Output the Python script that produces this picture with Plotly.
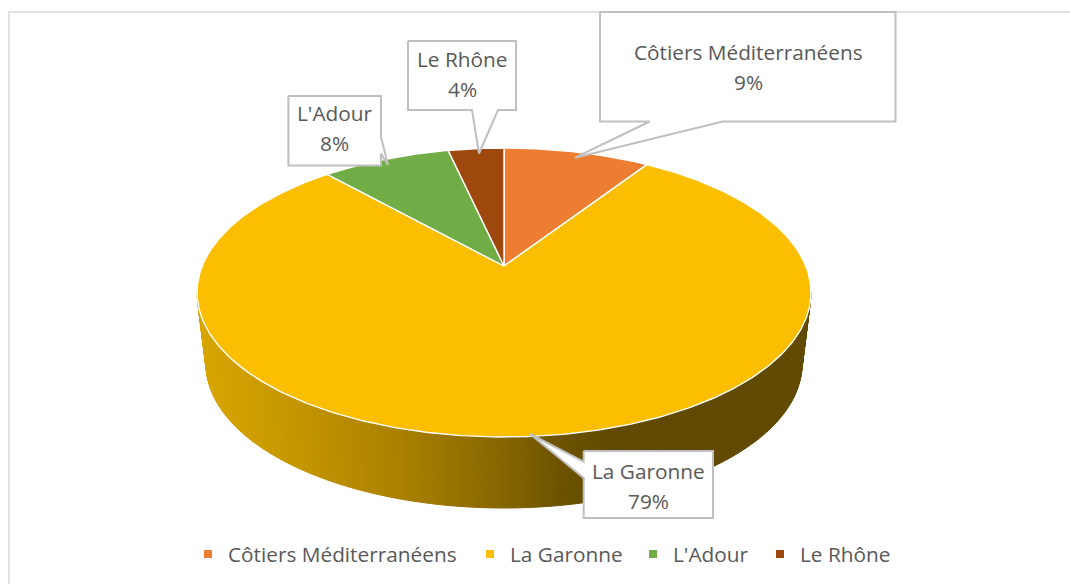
import numpy as np
import plotly.graph_objects as go

# ---- data ----
categories = ["Côtiers Méditerranéens", "La Garonne", "L'Adour", "Le Rhône"]
shares = [9.2, 79.2, 8.1, 3.5]          # slice sizes
labels = ["9%", "79%", "8%", "4%"]      # printed labels
colors = ["#ED7D31", "#FBBE00", "#70AD47", "#9E480E"]

# ---- projection of the tilted pie onto the page (pixels) ----
CX, APEX_Y, Y_TOP, Y_BOTTOM, HALF_W = 504.0, 266.0, 148.0, 437.0, 307.0
K = (Y_TOP + Y_BOTTOM - 2 * APEX_Y) / (Y_BOTTOM - Y_TOP)
A = Y_TOP * (1 + K) - APEX_Y
B = HALF_W * np.sqrt(1 - K * K)


def project(theta):
    """theta: clockwise from 12 o'clock in radians, on the disc rim."""
    u, v = np.sin(theta), np.cos(theta)
    w = 1 + K * v
    return CX + B * u / w, (APEX_Y + A * v) / w


fig = go.Figure()

# chart frame (runs off the page on the right and bottom)
fig.add_trace(go.Scatter(x=[9, 9, 1080], y=[600, 12, 12], mode="lines",
                         line=dict(color="#D9D9D9", width=1.5),
                         hoverinfo="skip", showlegend=False))

# ---- wall of the pie, drawn in narrow strips to get the gradient ----
grad_x = [197, 300, 400, 500, 560, 610, 811]
grad_r = [218, 197, 170, 135, 110, 97, 97]
grad_g = [166, 150, 129, 103, 84, 74, 74]

TOP_C, TOP_RX, TOP_RY = 292.5, 307.0, 144.5
BOT_C, BOT_RX, BOT_RY = 364.0, 298.0, 144.0
ts = np.linspace(0, np.pi, 161)
for t0, t1 in zip(ts[:-1], ts[1:]):
    xs = [CX - TOP_RX * np.cos(t0), CX - TOP_RX * np.cos(t1),
          CX - BOT_RX * np.cos(t1), CX - BOT_RX * np.cos(t0)]
    ys = [TOP_C + TOP_RY * np.sin(t0), TOP_C + TOP_RY * np.sin(t1),
          BOT_C + BOT_RY * np.sin(t1), BOT_C + BOT_RY * np.sin(t0)]
    mid = sum(xs) / 4
    c = "rgb(%d,%d,0)" % (np.interp(mid, grad_x, grad_r), np.interp(mid, grad_x, grad_g))
    fig.add_trace(go.Scatter(x=xs + xs[:1], y=ys + ys[:1], mode="lines", fill="toself",
                             fillcolor=c, line=dict(color=c, width=1),
                             hoverinfo="skip", showlegend=False))

# ---- top slices, clockwise from 12 o'clock ----
start = 0.0
total = sum(shares)
for name, share, col in zip(categories, shares, colors):
    end = start + share / total * 2 * np.pi
    th = np.linspace(start, end, max(6, int(share * 6)))
    rx, ry = project(th)
    fig.add_trace(go.Scatter(x=[CX, *rx, CX], y=[APEX_Y, *ry, APEX_Y], mode="lines",
                             fill="toself", fillcolor=col,
                             line=dict(color="white", width=1.4),
                             name=name, hoverinfo="name", showlegend=False))
    start = end

# ---- legend entries: one small legend per entry so each sits at its own place ----
FONT = dict(family="Open Sans", size=20.8, color="#595959")
legend_left = [188, 470, 633, 760]
legend_layout = {}
for i, (name, col, left) in enumerate(zip(categories, colors, legend_left)):
    key = "legend" if i == 0 else f"legend{i + 1}"
    fig.add_trace(go.Scatter(x=[None], y=[None], mode="markers", name=name, legend=key,
                             showlegend=True,
                             marker=dict(symbol="square", size=8, color=col)))
    legend_layout[key] = dict(x=left / 1070, y=1 - 554.5 / 584, yanchor="middle", xanchor="left",
                              orientation="h", font=FONT, bgcolor="rgba(0,0,0,0)",
                              itemclick=False, itemdoubleclick=False)

# ---- callouts: outline of each box with its pointer, then the text ----
callouts = {
    "Côtiers Méditerranéens": ([600, 895.5, 895.5, 722.7, 575, 649.7, 600],
                               [12, 12, 121.5, 121.5, 157.7, 121.5, 121.5], 748, 52),
    "La Garonne": ([583.7, 583.7, 530, 583.7, 583.7, 713, 713],
                   [451, 461.7, 434, 478, 518, 518, 451], 648.5, 471),
    "L'Adour": ([288.4, 381, 381, 388, 381, 381, 288.4],
                [96, 96, 137, 165, 153.6, 165.5, 165.5], 334.5, 113),
    "Le Rhône": ([408, 516, 516, 498, 479, 472, 408],
                 [41, 41, 110, 110, 153.5, 110, 110], 462, 59),
}
annotations = []
for name, label in zip(categories, labels):
    xs, ys, tx, ty = callouts[name]
    fig.add_trace(go.Scatter(x=xs + xs[:1], y=ys + ys[:1], mode="lines", fill="toself",
                             fillcolor="white", line=dict(color="#BFBFBF", width=2),
                             hoverinfo="skip", showlegend=False))
    for text, yy in ((name, ty), (label, ty + 30)):
        annotations.append(dict(x=tx, y=yy, xref="x", yref="y", text=text, showarrow=False,
                                font=FONT))

fig.update_layout(
    width=1070, height=584, autosize=False,
    margin=dict(l=0, r=0, t=0, b=0),
    paper_bgcolor="white", plot_bgcolor="white",
    xaxis=dict(range=[0, 1070], visible=False, fixedrange=True),
    yaxis=dict(range=[584, 0], visible=False, fixedrange=True),
    annotations=annotations,
    **legend_layout,
)

fig.write_html("out.html", config={"displayModeBar": False},
               post_script="document.body.style.margin='0';")
